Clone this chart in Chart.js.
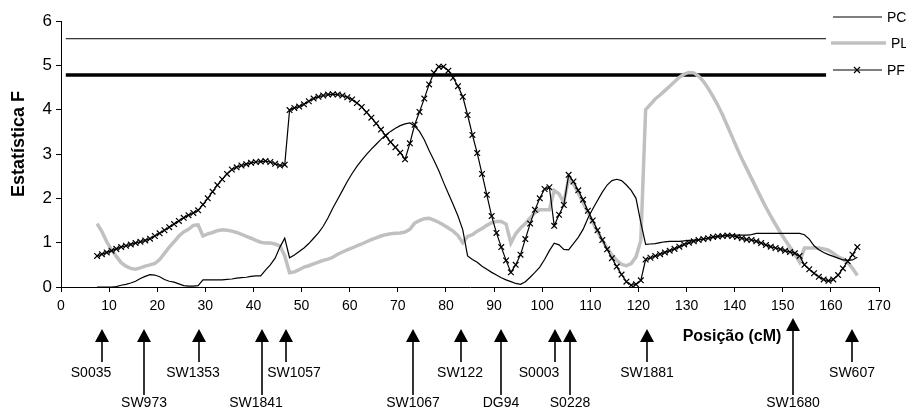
<!DOCTYPE html>
<html><head><meta charset="utf-8">
<script src="https://cdn.jsdelivr.net/npm/chart.js"></script>
<style>html,body{margin:0;padding:0;background:#fff}canvas{display:block}</style>
</head><body>
<canvas id="c" width="906" height="412"></canvas>
<script>
// ---------- DATA ----------
const positions = [
 7.5,8.5,9.5,10.5,11.5,12.5,13.5,14.5,15.5,16.5,
 17.5,18.5,19.5,20.5,21.5,22.5,23.5,24.5,25.5,26.5,
 27.5,28.5,29.5,30.5,31.5,32.5,33.5,34.5,35.5,36.5,
 37.5,38.5,39.5,40.5,41.5,42.5,43.5,44.5,45.5,46.5,
 47.5,48.5,49.5,50.5,51.5,52.5,53.5,54.5,55.5,56.5,
 57.5,58.5,59.5,60.5,61.5,62.5,63.5,64.5,65.5,66.5,
 67.5,68.5,69.5,70.5,71.5,72.5,73.5,74.5,75.5,76.5,
 77.5,78.5,79.5,80.5,81.5,82.5,83.5,84.5,85.5,86.5,
 87.5,88.5,89.5,90.5,91.5,92.5,93.5,94.5,95.5,96.5,
 97.5,98.5,99.5,100.5,101.5,102.5,103.5,104.5,105.5,106.5,
 107.5,108.5,109.5,110.5,111.5,112.5,113.5,114.5,115.5,116.5,
 117.5,118.5,119.5,120.5,121.5,122.5,123.5,124.5,125.5,126.5,
 127.5,128.5,129.5,130.5,131.5,132.5,133.5,134.5,135.5,136.5,
 137.5,138.5,139.5,140.5,141.5,142.5,143.5,144.5,145.5,146.5,
 147.5,148.5,149.5,150.5,151.5,152.5,153.5,154.5,155.5,156.5,
 157.5,158.5,159.5,160.5,161.5,162.5,163.5,164.5,165.5
];
const pcValues = [
 0,0,0,0,0.01,0.04,0.06,0.09,0.13,0.19,
 0.24,0.28,0.27,0.23,0.17,0.13,0.11,0.07,0.03,0.02,
 0.02,0.03,0.16,0.16,0.16,0.16,0.16,0.17,0.18,0.20,
 0.21,0.22,0.24,0.25,0.25,0.38,0.50,0.65,0.90,1.10,
 0.66,0.72,0.80,0.88,0.98,1.10,1.22,1.37,1.56,1.78,
 1.98,2.18,2.38,2.56,2.72,2.86,2.99,3.11,3.22,3.33,
 3.43,3.51,3.58,3.64,3.68,3.70,3.63,3.51,3.32,3.08,
 2.86,2.63,2.36,2.11,1.86,1.60,1.29,0.70,0.62,0.56,
 0.47,0.40,0.33,0.27,0.21,0.16,0.12,0.08,0.06,0.12,
 0.22,0.33,0.45,0.62,0.82,0.99,0.95,0.85,0.84,0.98,
 1.12,1.30,1.55,1.76,1.95,2.14,2.30,2.40,2.43,2.40,
 2.30,2.18,2.00,1.45,0.96,0.97,0.98,1.00,1.02,1.03,
 1.03,1.03,1.04,1.05,1.06,1.07,1.08,1.10,1.12,1.14,
 1.16,1.17,1.17,1.17,1.17,1.17,1.18,1.21,1.21,1.21,
 1.21,1.21,1.21,1.21,1.21,1.21,1.21,1.18,1.08,0.93,
 0.84,0.78,0.73,0.69,0.65,0.61,0.60,0.61,0.67
];
const plValues = [
 1.43,1.25,1.02,0.84,0.69,0.55,0.47,0.42,0.40,0.43,
 0.47,0.50,0.53,0.62,0.76,0.90,1.02,1.15,1.24,1.30,
 1.39,1.40,1.15,1.20,1.23,1.27,1.29,1.28,1.26,1.23,
 1.19,1.14,1.10,1.05,1.01,0.99,0.99,0.97,0.93,0.70,
 0.32,0.34,0.39,0.45,0.48,0.52,0.56,0.60,0.63,0.67,
 0.74,0.79,0.84,0.88,0.93,0.97,1.02,1.07,1.11,1.15,
 1.18,1.20,1.21,1.22,1.24,1.30,1.44,1.50,1.54,1.55,
 1.51,1.46,1.40,1.33,1.26,1.16,1.00,1.14,1.18,1.26,
 1.32,1.39,1.45,1.48,1.48,1.42,0.99,1.20,1.33,1.43,
 1.56,1.68,1.74,1.74,1.74,2.18,2.10,1.90,2.45,2.32,
 2.12,1.90,1.68,1.46,1.25,1.05,0.88,0.72,0.60,0.51,
 0.48,0.53,0.68,1.05,4.00,4.12,4.24,4.33,4.43,4.53,
 4.63,4.73,4.80,4.84,4.83,4.76,4.64,4.48,4.30,4.10,
 3.88,3.63,3.38,3.13,2.89,2.67,2.45,2.23,2.01,1.80,
 1.60,1.41,1.23,1.06,0.90,0.74,0.56,0.88,0.88,0.88,
 0.88,0.86,0.83,0.76,0.68,0.63,0.55,0.42,0.26
];
const pfValues = [
 0.70,0.74,0.78,0.82,0.86,0.90,0.93,0.96,0.99,1.02,
 1.05,1.09,1.15,1.21,1.28,1.35,1.42,1.49,1.56,1.62,
 1.67,1.73,1.86,2.00,2.15,2.30,2.43,2.55,2.65,2.70,
 2.74,2.77,2.80,2.82,2.83,2.84,2.82,2.78,2.74,2.76,
 3.99,4.04,4.07,4.12,4.19,4.25,4.29,4.32,4.34,4.35,
 4.34,4.32,4.28,4.23,4.15,4.06,3.94,3.82,3.69,3.55,
 3.41,3.27,3.15,3.03,2.88,3.24,3.66,3.95,4.25,4.57,
 4.83,4.97,4.97,4.88,4.72,4.53,4.29,3.88,3.43,3.02,
 2.55,2.08,1.60,1.22,0.90,0.60,0.33,0.50,0.73,1.08,
 1.43,1.74,2.00,2.21,2.25,1.38,1.63,1.85,2.53,2.38,
 2.18,1.97,1.72,1.50,1.28,1.06,0.85,0.65,0.46,0.28,
 0.12,0.04,0.06,0.15,0.62,0.66,0.70,0.74,0.78,0.82,
 0.86,0.91,0.96,1.00,1.03,1.06,1.08,1.10,1.13,1.14,
 1.15,1.16,1.15,1.13,1.10,1.07,1.06,1.03,0.99,0.95,
 0.91,0.88,0.85,0.82,0.79,0.76,0.70,0.50,0.40,0.31,
 0.23,0.17,0.14,0.17,0.27,0.42,0.58,0.73,0.90
];
const thresholdX = [1, 159];
const thresholdHigh = [5.6, 5.6];
const thresholdLow = [4.78, 4.78];
const xTickValues = [0,10,20,30,40,50,60,70,80,90,100,110,120,130,140,150,160,170];
const yTickValues = [0,1,2,3,4,5,6];
const seriesNames = ['PC','PL','PF'];
const markerNames = ['S0035','SW973','SW1353','SW1841','SW1057','SW1067','SW122','DG94','S0003','S0228','SW1881','SW1680','SW607'];
const markerPositions = [8.5,17.2,28.6,41.7,46.7,73.1,83.1,91.4,102.6,105.8,121.7,152.2,164.3];
const markerRows = [1,2,1,2,1,2,1,2,1,2,1,2,1];
const xTitle = 'Posição (cM)';
const yTitle = 'Estatística F';

// ---------- STYLE ----------
const FONT = '"Liberation Sans", Arial, sans-serif';
const ARROW = {tipY:329, head:13, half:7, shortEnd:362, longEnd:395, label1:373, label2:403.5,
  tipOverride:{SW1680:318}, nudge:{S0035:-11,SW1353:-6,SW1841:-6,SW1057:8,S0003:-16,SW122:-1}};

const xy = (xs, ys) => xs.map((x,i)=>({x, y: ys[i]}));

const overlay = {
  id:'overlay',
  afterDraw(chart){
    const ctx = chart.ctx, xs = chart.scales.x;
    ctx.save();
    ctx.fillStyle = '#000'; ctx.strokeStyle = '#000';
    // marker arrows
    ctx.font = '14px ' + FONT; ctx.textAlign = 'center'; ctx.textBaseline = 'middle';
    markerNames.forEach((name,i)=>{
      const px = Math.round(xs.getPixelForValue(markerPositions[i]));
      const tip = ARROW.tipOverride[name] ?? ARROW.tipY;
      const end = markerRows[i] === 1 ? ARROW.shortEnd : ARROW.longEnd;
      ctx.beginPath();
      ctx.moveTo(px, tip); ctx.lineTo(px-ARROW.half, tip+ARROW.head); ctx.lineTo(px+ARROW.half, tip+ARROW.head);
      ctx.closePath(); ctx.fill();
      ctx.lineWidth = 1.6;
      ctx.beginPath(); ctx.moveTo(px, tip+ARROW.head-1); ctx.lineTo(px, end); ctx.stroke();
      ctx.fillText(name, px + (ARROW.nudge[name]||0), markerRows[i] === 1 ? ARROW.label1 : ARROW.label2);
    });
    // axis titles
    ctx.font = 'bold 16px ' + FONT;
    ctx.fillText(xTitle, 732, 337);
    ctx.save();
    ctx.translate(19, 144); ctx.rotate(-Math.PI/2);
    ctx.font = 'bold 18px ' + FONT;
    ctx.fillText(yTitle, 0, 0);
    ctx.restore();
    // legend
    const ds = chart.data.datasets;
    const rows = [17, 43, 70];
    ctx.textAlign = 'left'; ctx.font = '14px ' + FONT;
    seriesNames.forEach((n,i)=>{
      const d = ds[i];
      const y = rows[i];
      const x0 = i===1 ? 831 : 833, x1 = i===1 ? 886 : 882;
      ctx.strokeStyle = d.borderColor; ctx.lineWidth = d.borderWidth;
      ctx.beginPath(); ctx.moveTo(x0, y); ctx.lineTo(x1, y); ctx.stroke();
      if (d.pointStyle === 'crossRot') {
        ctx.lineWidth = 1.2; ctx.strokeStyle = '#000';
        const r = 3;
        ctx.beginPath(); ctx.moveTo(857-r, y-r); ctx.lineTo(857+r, y+r); ctx.moveTo(857-r, y+r); ctx.lineTo(857+r, y-r); ctx.stroke();
      }
      ctx.fillStyle = '#000';
      ctx.fillText(n, i===1 ? 891 : 887, y+1);
    });
    ctx.restore();
  }
};

const axisGrid = {display:true, drawOnChartArea:false, drawTicks:true, tickLength:5, color:'#000', lineWidth:1};

new Chart(document.getElementById('c'), {
  type:'line',
  data:{datasets:[
    {label:seriesNames[0], data:xy(positions, pcValues), borderColor:'#000', borderWidth:1.2, pointRadius:0, order:2},
    {label:seriesNames[1], data:xy(positions, plValues), borderColor:'#c0c0c0', borderWidth:3.5, pointRadius:0, order:3},
    {label:seriesNames[2], data:xy(positions, pfValues), borderColor:'#000', borderWidth:1.2,
      pointStyle:'crossRot', pointRadius:4, pointBorderWidth:1.2, pointBorderColor:'#000', pointBackgroundColor:'#000', order:1},
    {label:'thr1', data:xy(thresholdX, thresholdHigh), borderColor:'#000', borderWidth:1, pointRadius:0, order:4},
    {label:'thr2', data:xy(thresholdX, thresholdLow), borderColor:'#000', borderWidth:3.5, pointRadius:0, order:4}
  ]},
  options:{
    responsive:false, animation:false, events:[],
    layout:{padding:{top:21, right:27, left:0, bottom:0}},
    plugins:{legend:{display:false}, tooltip:{enabled:false}},
    elements:{line:{tension:0}},
    scales:{
      x:{type:'linear', min:0, max:170,
        afterBuildTicks:s=>{s.ticks = xTickValues.map(v=>({value:v}));},
        ticks:{font:{size:14, family:FONT}, color:'#000', padding:6, maxRotation:0, autoSkip:false},
        grid:axisGrid, border:{display:true, color:'#000', width:1},
        afterFit:s=>{s.height = 125;}},
      y:{min:0, max:6,
        afterBuildTicks:s=>{s.ticks = yTickValues.map(v=>({value:v}));},
        ticks:{font:{size:17, family:FONT}, color:'#000', padding:4},
        grid:axisGrid, border:{display:true, color:'#000', width:1},
        afterFit:s=>{s.width = 61;}}
    }
  },
  plugins:[overlay]
});
</script>
</body></html>
